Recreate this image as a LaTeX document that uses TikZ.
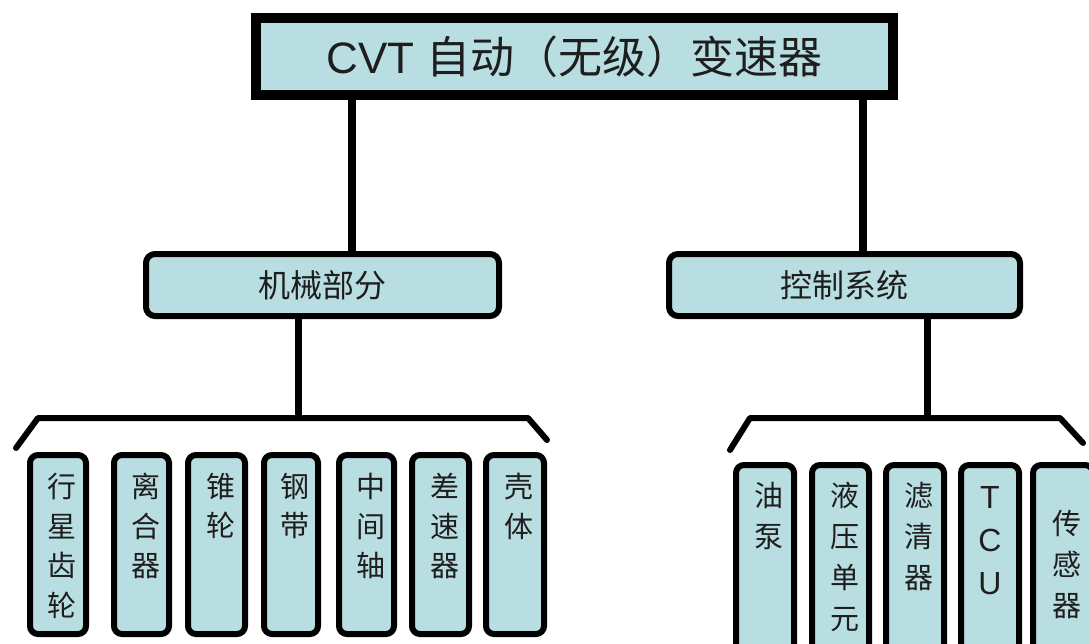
\documentclass[tikz,border=0pt]{standalone}
\usepackage{fontspec}
\setmainfont{Liberation Sans}
\newfontfamily\cjk{Noto Sans CJK SC}
\definecolor{boxfill}{RGB}{185,222,226}
\definecolor{ink}{RGB}{30,30,30}
\begin{document}
\begin{tikzpicture}[x=1pt,y=-1pt,
  topbox/.style={draw=black, fill=boxfill, line width=10pt, inner sep=0pt,
    minimum width=637pt, minimum height=77pt, text=ink},
  midbox/.style={draw=black, fill=boxfill, line width=6pt, rounded corners=9pt,
    inner sep=0pt, minimum height=62pt, text=ink,
    font=\cjk\fontsize{32}{36}\selectfont},
  leafbox/.style={draw=black, fill=boxfill, line width=6pt, rounded corners=8pt,
    inner sep=0pt},
  leaftext/.style={anchor=north, inner sep=0pt, align=center, text=ink,
    font=\cjk\fontsize{29}{39.5}\selectfont},
  rleaftext/.style={leaftext, font=\cjk\fontsize{29}{41}\selectfont},
  link/.style={line width=8pt},
  sublink/.style={line width=7pt},
  bracket/.style={line width=6pt, line cap=round, line join=round}]
\useasboundingbox (0,0) rectangle (1089,643);
\fill[white] (0,0) rectangle (1089,643);

% top
\node[topbox] (top) at (574.5,56.5)
  {\fontsize{44}{50}\selectfont CVT {\cjk 自动（无级）变速器}};

% middle
\node[midbox, minimum width=353pt] (mech) at (322.5,285) {机械部分};
\node[midbox, minimum width=351pt] (ctrl) at (844.5,285) {控制系统};

\draw[link] ([xshift=29.5pt]mech.north) -- ([xshift=29.5pt]mech.north |- top.south);
\draw[link] ([xshift=18.5pt]ctrl.north) -- ([xshift=18.5pt]ctrl.north |- top.south);

% brackets
\coordinate (la) at (16,448);
\coordinate (lb) at (38,418);
\coordinate (lc) at (528,418);
\coordinate (ld) at (547,440);
\coordinate (ra) at (730,450);
\coordinate (rb) at (750,418);
\coordinate (rc) at (1060,418);
\coordinate (rd) at (1083,443);
\draw[bracket] (la) -- (lb) -- (lc) -- (ld);
\draw[bracket] (ra) -- (rb) -- (rc) -- (rd);
\draw[sublink] ([xshift=-24.5pt]mech.south) -- ([xshift=-24.5pt]mech.south |- lb);
\draw[sublink] ([xshift=82.5pt]ctrl.south) -- ([xshift=82.5pt]ctrl.south |- rb);

% left leaves
\node[leafbox, minimum width=56pt, minimum height=179pt] (l1) at (58,544.5) {};
\node[leafbox, minimum width=55pt, minimum height=179pt] (l2) at (141.5,544.5) {};
\node[leafbox, minimum width=57pt, minimum height=179pt] (l3) at (216.5,544.5) {};
\node[leafbox, minimum width=54pt, minimum height=179pt] (l4) at (291,544.5) {};
\node[leafbox, minimum width=55pt, minimum height=179pt] (l5) at (366.5,544.5) {};
\node[leafbox, minimum width=57pt, minimum height=179pt] (l6) at (440.5,544.5) {};
\node[leafbox, minimum width=58pt, minimum height=179pt] (l7) at (515,544.5) {};
\node[leaftext] (t1) at ([xshift=4pt,yshift=-21pt]l1.north) {行\\星\\齿\\轮};
\node[leaftext] (t2) at ([xshift=4pt,yshift=-21pt]l2.north) {离\\合\\器};
\node[leaftext] (t3) at ([xshift=4pt,yshift=-21pt]l3.north) {锥\\轮};
\node[leaftext] (t4) at ([xshift=4pt,yshift=-21pt]l4.north) {钢\\带};
\node[leaftext] (t5) at ([xshift=4pt,yshift=-21pt]l5.north) {中\\间\\轴};
\node[leaftext] (t6) at ([xshift=4pt,yshift=-21pt]l6.north) {差\\速\\器};
\node[leaftext] (t7) at ([xshift=4pt,yshift=-21pt]l7.north) {壳\\体};

% right leaves
\node[leafbox, minimum width=58pt, minimum height=202pt] (r1) at (765,566) {};
\node[leafbox, minimum width=57pt, minimum height=202pt] (r2) at (840.5,566) {};
\node[leafbox, minimum width=58pt, minimum height=202pt] (r3) at (915,566) {};
\node[leafbox, minimum width=58pt, minimum height=202pt] (r4) at (990,566) {};
\node[leafbox, minimum width=60pt, minimum height=202pt] (r5) at (1063,566) {};
\node[rleaftext] (s1) at ([xshift=4pt,yshift=-20pt]r1.north) {油\\泵};
\node[rleaftext] (s2) at ([xshift=4pt,yshift=-20pt]r2.north) {液\\压\\单\\元};
\node[rleaftext] (s3) at ([xshift=4pt,yshift=-20pt]r3.north) {滤\\清\\器};
\node[rleaftext, font=\fontsize{32}{43}\selectfont] (s4) at ([xshift=0pt,yshift=-24pt]r4.north) {T\\C\\U};
\node[rleaftext] (s5) at ([xshift=4pt,yshift=-48pt]r5.north) {传\\感\\器};
\end{tikzpicture}
\end{document}
